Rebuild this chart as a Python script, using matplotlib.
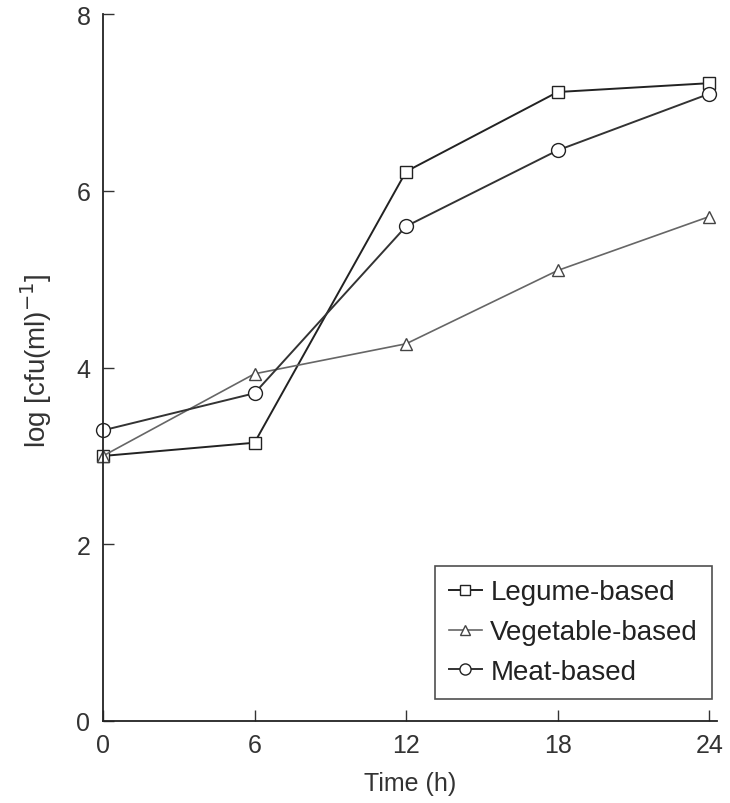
import matplotlib.pyplot as plt

plt.rcParams['font.family'] = ['Liberation Sans', 'DejaVu Sans']

time_h = [0, 6, 12, 18, 24]
legume = [3.0, 3.15, 6.22, 7.12, 7.22]
vegetable = [3.0, 3.93, 4.27, 5.10, 5.71]
meat = [3.29, 3.71, 5.60, 6.46, 7.10]

fig = plt.figure(figsize=(7.3, 8.04), dpi=100)
ax = fig.add_axes([0.141, 0.102, 0.841, 0.879])

ax.plot(time_h, legume, color='#222222', lw=1.4, marker='s', ms=9,
        mfc='white', mec='#222222', mew=1.0, label='Legume-based', clip_on=False)
ax.plot(time_h, vegetable, color='#666666', lw=1.2, marker='^', ms=9,
        mfc='white', mec='#444444', mew=1.0, label='Vegetable-based', clip_on=False)
ax.plot(time_h, meat, color='#333333', lw=1.4, marker='o', ms=10,
        mfc='white', mec='#222222', mew=1.0, label='Meat-based', clip_on=False)

ax.set_xlim(0, 24.3)
ax.set_ylim(0, 8)
ax.set_xticks(time_h)
ax.set_yticks([0, 2, 4, 6, 8])
ax.tick_params(direction='in', length=8, width=1.0, labelsize=18, colors='#333333', pad=9)

for s in ['top', 'right']:
    ax.spines[s].set_visible(False)
for s in ['left', 'bottom']:
    ax.spines[s].set_linewidth(1.3)
    ax.spines[s].set_color('#222222')

ax.set_xlabel('Time (h)', fontsize=18, color='#333333', labelpad=10)
ax.set_ylabel('log [cfu(ml)$^{-1}$]', fontsize=20, color='#333333')
ax.yaxis.set_label_coords(-0.08, 0.512)

leg = ax.legend(loc='lower right', bbox_to_anchor=(0.992, 0.031), fontsize=20,
                frameon=True, fancybox=False, edgecolor='#222222',
                handlelength=1.2, handletextpad=0.3, labelspacing=0.5,
                borderpad=0.5, borderaxespad=0, markerscale=0.8)
leg.get_frame().set_linewidth(1.2)
for t in leg.get_texts():
    t.set_color('#222222')

fig.savefig('out.png', dpi=100)
